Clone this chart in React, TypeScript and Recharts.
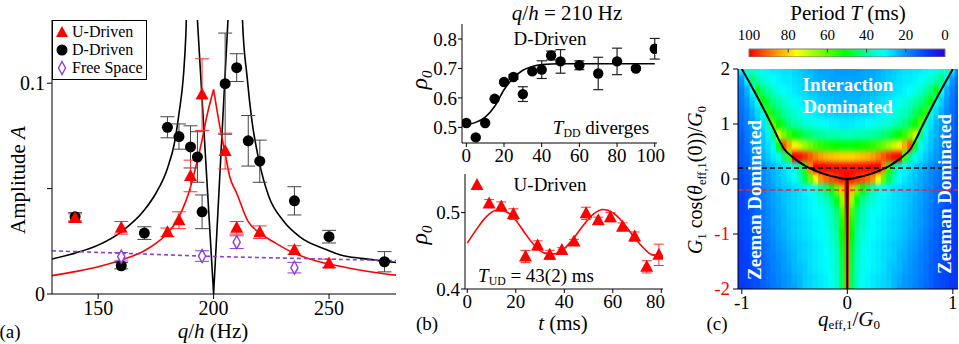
import React from "react";
import {
  ComposedChart,
  Scatter,
  Line,
  XAxis,
  YAxis,
  ErrorBar,
  ReferenceLine,
  ReferenceArea,
} from "recharts";

const SERIF = '"Liberation Serif", "Times New Roman", serif';
const PURPLE = "#8a3fd6";

// ---------- (a) amplitude vs q/h ----------
const uDriven = [
  { q: 140, a: 0.036, e: 0.002 },
  { q: 160, a: 0.0314, e: 0.003 },
  { q: 180, a: 0.0293, e: 0.002 },
  { q: 185, a: 0.035, e: 0.004 },
  { q: 190, a: 0.056, e: 0.0075 },
  { q: 195, a: 0.0946, e: 0.017 },
  { q: 205, a: 0.0678, e: 0.0085 },
  { q: 210, a: 0.0314, e: 0.003 },
  { q: 220, a: 0.0293, e: 0.003 },
  { q: 235, a: 0.0209, e: 0.002 },
  { q: 250, a: 0.0145, e: 0.002 },
];

const dDriven = [
  { q: 140, a: 0.0366, e: 0.002 },
  { q: 160, a: 0.0134, e: 0.0015 },
  { q: 170, a: 0.0289, e: 0.003 },
  { q: 180, a: 0.0791, e: 0.005 },
  { q: 185, a: 0.0747, e: 0.006 },
  { q: 190, a: 0.0698, e: 0.01 },
  { q: 193, a: 0.065, e: 0.012 },
  { q: 195, a: 0.039, e: 0.008 },
  { q: 205, a: 0.0998, e: 0.024 },
  { q: 210, a: 0.1074, e: 0.0066 },
  { q: 215, a: 0.0727, e: 0.012 },
  { q: 220, a: 0.063, e: 0.01 },
  { q: 235, a: 0.0442, e: 0.0067 },
  { q: 250, a: 0.0272, e: 0.003 },
  { q: 274, a: 0.0153, e: 0.0048 },
];

const freeSpace = [
  { q: 160, a: 0.0177, e: 0.002 },
  { q: 195, a: 0.018, e: 0.0025 },
  { q: 210, a: 0.0246, e: 0.003 },
  { q: 235, a: 0.0125, e: 0.0025 },
];

const freeSpaceFit = [
  { q: 130, a: 0.0205 },
  { q: 200, a: 0.0178 },
  { q: 280, a: 0.0158 },
];

const blackFitLeft = [
  { q: 130, a: 0.0166 },
  { q: 140, a: 0.0194 },
  { q: 150, a: 0.0232 },
  { q: 160, a: 0.0295 },
  { q: 170, a: 0.0398 },
  { q: 175, a: 0.0478 },
  { q: 180, a: 0.0596 },
  { q: 183, a: 0.0714 },
  { q: 185, a: 0.0856 },
  { q: 187, a: 0.1045 },
  { q: 188, a: 0.1235 },
  { q: 189, a: 0.16 },
];

const blackFitMid = [
  { q: 192.5, a: 0.139 },
  { q: 200, a: 0 },
  { q: 206.7, a: 0.14 },
];

const blackFitRight = [
  { q: 212, a: 0.15 },
  { q: 212.5, a: 0.13 },
  { q: 214.5, a: 0.103 },
  { q: 216.5, a: 0.083 },
  { q: 219.5, a: 0.064 },
  { q: 224, a: 0.046 },
  { q: 230, a: 0.035 },
  { q: 237.5, a: 0.027 },
  { q: 249, a: 0.021 },
  { q: 255, a: 0.0185 },
  { q: 265, a: 0.0168 },
  { q: 280, a: 0.0148 },
];

const redFitLeft = [
  { q: 130, a: 0.0087 },
  { q: 140, a: 0.0106 },
  { q: 150, a: 0.0129 },
  { q: 160, a: 0.0161 },
  { q: 170, a: 0.0205 },
  { q: 175, a: 0.024 },
  { q: 180, a: 0.0288 },
  { q: 185, a: 0.0366 },
  { q: 190, a: 0.0508 },
  { q: 193, a: 0.0635 },
  { q: 195, a: 0.073 },
  { q: 197, a: 0.084 },
  { q: 200, a: 0.097 },
];

const redFitRight = [
  { q: 200, a: 0.097 },
  { q: 203, a: 0.0777 },
  { q: 205, a: 0.0667 },
  { q: 207, a: 0.0556 },
  { q: 210, a: 0.0478 },
  { q: 215, a: 0.0343 },
  { q: 220, a: 0.029 },
  { q: 227, a: 0.024 },
  { q: 235, a: 0.0193 },
  { q: 242, a: 0.0165 },
  { q: 250, a: 0.0142 },
  { q: 260, a: 0.012 },
  { q: 270, a: 0.0102 },
  { q: 280, a: 0.0088 },
];

const aTicksX = [150, 200, 250];
const aTicksY = [0, 0.05, 0.1];

// ---------- (b) rho_0 vs t ----------
const dTime = [
  { t: 0, r: 0.515, e: 0 },
  { t: 5, r: 0.466, e: 0 },
  { t: 10, r: 0.515, e: 0 },
  { t: 15, r: 0.597, e: 0 },
  { t: 20, r: 0.654, e: 0 },
  { t: 25, r: 0.671, e: 0.008 },
  { t: 30, r: 0.613, e: 0.025 },
  { t: 35, r: 0.69, e: 0 },
  { t: 40, r: 0.696, e: 0.03 },
  { t: 45, r: 0.744, e: 0.015 },
  { t: 50, r: 0.724, e: 0.04 },
  { t: 60, r: 0.711, e: 0.015 },
  { t: 70, r: 0.683, e: 0.055 },
  { t: 80, r: 0.724, e: 0.045 },
  { t: 90, r: 0.7, e: 0.006 },
  { t: 100, r: 0.767, e: 0.035 },
];

const dTimeFit = [
  { t: 0, r: 0.509 },
  { t: 5, r: 0.517 },
  { t: 10, r: 0.535 },
  { t: 15, r: 0.571 },
  { t: 20, r: 0.628 },
  { t: 25, r: 0.668 },
  { t: 30, r: 0.694 },
  { t: 35, r: 0.707 },
  { t: 40, r: 0.713 },
  { t: 50, r: 0.716 },
  { t: 100, r: 0.716 },
];

const uTime = [
  { t: 4, r: 0.536, e: 0 },
  { t: 9, r: 0.512, e: 0.005 },
  { t: 14, r: 0.508, e: 0.006 },
  { t: 19, r: 0.498, e: 0.007 },
  { t: 24, r: 0.4425, e: 0.008 },
  { t: 29, r: 0.457, e: 0.006 },
  { t: 34, r: 0.4447, e: 0.006 },
  { t: 39, r: 0.451, e: 0.003 },
  { t: 44, r: 0.462, e: 0.003 },
  { t: 49, r: 0.499, e: 0.008 },
  { t: 54, r: 0.49, e: 0.004 },
  { t: 59, r: 0.494, e: 0.006 },
  { t: 64, r: 0.4815, e: 0.005 },
  { t: 69, r: 0.4686, e: 0.006 },
  { t: 74, r: 0.429, e: 0.008 },
  { t: 79, r: 0.4447, e: 0.014 },
];

const uTimeFit = [
  { t: 0, r: 0.46 },
  { t: 4, r: 0.479 },
  { t: 8, r: 0.495 },
  { t: 12, r: 0.503 },
  { t: 16, r: 0.501 },
  { t: 20, r: 0.49 },
  { t: 24, r: 0.472 },
  { t: 28, r: 0.456 },
  { t: 32, r: 0.447 },
  { t: 36, r: 0.446 },
  { t: 40, r: 0.453 },
  { t: 44, r: 0.467 },
  { t: 48, r: 0.484 },
  { t: 52, r: 0.498 },
  { t: 56, r: 0.504 },
  { t: 60, r: 0.5 },
  { t: 64, r: 0.488 },
  { t: 68, r: 0.471 },
  { t: 72, r: 0.456 },
  { t: 76, r: 0.445 },
  { t: 80, r: 0.443 },
];

const bTicksTop = [0, 20, 40, 60, 80, 100];
const bTicksTopY = [0.5, 0.6, 0.7, 0.8];
const bTicksBot = [0, 20, 40, 60, 80];
const bTicksBotY = [0.4, 0.5];

// ---------- (c) period map ----------
// columns: q_eff/G0 >= 0 (mirrored to negative side), rows: G1 cos / G0
const hmX = [0, 0.05, 0.1, 0.15, 0.2, 0.25, 0.3, 0.35, 0.4, 0.45, 0.5, 0.55, 0.6, 0.65, 0.7, 0.75, 0.8, 0.85, 0.9, 0.95, 1.0, 1.05];
const hmY = [2, 1.8, 1.6, 1.4, 1.2, 1, 0.8, 0.6, 0.4, 0.2, 0, -0.2, -0.4, -0.6, -0.8, -1, -1.2, -1.4, -1.6, -1.8, -2];
const hmT = [
  [21, 21, 21, 22, 22, 22, 23, 24, 25, 26, 27, 28, 28, 29, 29, 30, 31, 33, 35, 37, 31, 18],
  [22, 22, 22, 22, 23, 23, 24, 25, 26, 27, 28, 29, 29, 30, 31, 33, 35, 38, 43, 30, 21, 16],
  [23, 23, 23, 23, 24, 24, 25, 26, 27, 28, 29, 30, 31, 33, 36, 39, 43, 50, 31, 23, 18, 14],
  [24, 24, 24, 25, 25, 26, 27, 28, 29, 30, 32, 34, 36, 39, 42, 46, 52, 33, 26, 21, 17, 13],
  [26, 26, 26, 27, 27, 28, 29, 30, 31, 33, 35, 37, 40, 44, 48, 55, 35, 27, 23, 19, 16, 13],
  [29, 29, 30, 30, 31, 32, 33, 34, 35, 37, 39, 42, 46, 51, 60, 37, 28, 24, 21, 18, 15, 12],
  [37, 37, 38, 38, 39, 40, 41, 43, 45, 48, 51, 56, 63, 71, 41, 30, 26, 23, 20, 17, 14, 12],
  [50, 50, 51, 52, 53, 55, 58, 62, 66, 71, 77, 84, 92, 49, 33, 28, 25, 22, 19, 16, 13, 11],
  [80, 80, 81, 82, 83, 85, 88, 92, 96, 99, 100, 57, 41, 33, 29, 26, 23, 21, 18, 15, 13, 11],
  [99, 99, 99, 99, 100, 100, 100, 88, 56, 41, 34, 30, 28, 26, 24, 22, 20, 18, 16, 14, 12, 10],
  [100, 98, 95, 93, 90, 86, 76, 61, 46, 37, 31, 29, 27, 25, 23, 21, 19, 17, 15, 13, 11, 10],
  [100, 82, 61, 49, 43, 38, 34, 31, 30, 28, 27, 26, 25, 24, 22, 20, 18, 16, 14, 12, 11, 10],
  [98, 66, 49, 41, 37, 34, 32, 30, 29, 28, 27, 26, 25, 23, 22, 20, 18, 16, 14, 12, 10, 9],
  [95, 58, 43, 37, 34, 32, 31, 30, 29, 28, 27, 26, 24, 23, 21, 19, 17, 15, 13, 11, 10, 9],
  [93, 54, 41, 36, 33, 31, 30, 29, 28, 27, 26, 25, 24, 22, 21, 19, 17, 15, 13, 11, 10, 9],
  [92, 51, 39, 35, 32, 31, 30, 29, 28, 27, 26, 25, 23, 22, 20, 18, 16, 14, 12, 11, 10, 9],
  [90, 49, 38, 34, 32, 30, 29, 28, 27, 26, 25, 24, 22, 21, 19, 17, 15, 14, 12, 11, 9, 8],
  [90, 47, 37, 33, 31, 30, 29, 28, 27, 26, 24, 23, 21, 20, 18, 17, 15, 13, 12, 10, 9, 8],
  [89, 46, 36, 33, 31, 30, 29, 28, 26, 25, 24, 22, 21, 19, 18, 16, 14, 13, 11, 10, 9, 8],
  [88, 45, 36, 32, 30, 29, 28, 27, 26, 24, 23, 21, 20, 19, 17, 16, 14, 12, 11, 10, 9, 8],
  [88, 44, 35, 32, 30, 29, 28, 27, 26, 24, 22, 21, 20, 18, 17, 15, 14, 12, 11, 10, 8, 8],
];

const boundaryHalf = [
  { x: 0, y: 0 },
  { x: 0.1, y: 0.03 },
  { x: 0.2, y: 0.08 },
  { x: 0.3, y: 0.15 },
  { x: 0.4, y: 0.24 },
  { x: 0.5, y: 0.37 },
  { x: 0.6, y: 0.55 },
  { x: 0.65, y: 0.72 },
  { x: 0.7, y: 0.92 },
  { x: 0.8, y: 1.3 },
  { x: 0.9, y: 1.66 },
  { x: 1.0, y: 2.0 },
];

const cTicksX = [-1, 0, 1];
const cTicksY = [-2, -1, 0, 1, 2];
const cbarTicks = [100, 80, 60, 40, 20, 0];

// colour map of the period bar (T in ms -> colour)
const cmap: [number, string][] = [
  [0, "#2a00e0"],
  [10, "#0040ff"],
  [20, "#0090ff"],
  [31, "#00ffff"],
  [41, "#00ff90"],
  [51, "#00ff00"],
  [64, "#80ff00"],
  [76, "#ffff00"],
  [88, "#ff8000"],
  [100, "#ff0000"],
];

function hex2rgb(h: string) {
  return [1, 3, 5].map((i) => parseInt(h.slice(i, i + 2), 16));
}

function tColor(t: number) {
  const v = Math.max(0, Math.min(100, t));
  for (let i = 0; i < cmap.length - 1; i++) {
    const [t0, c0] = cmap[i];
    const [t1, c1] = cmap[i + 1];
    if (v <= t1) {
      const f = (v - t0) / (t1 - t0);
      const a = hex2rgb(c0);
      const b = hex2rgb(c1);
      const m = a.map((x, k) => Math.round(x + (b[k] - x) * f));
      return `rgb(${m[0]},${m[1]},${m[2]})`;
    }
  }
  return cmap[cmap.length - 1][1];
}

const heatCells = hmY.flatMap((y, i) =>
  hmX.flatMap((x, j) =>
    x === 0
      ? [{ x, y, t: hmT[i][j] }]
      : [
          { x: -x, y, t: hmT[i][j] },
          { x, y, t: hmT[i][j] },
        ]
  )
);

const boundary = [
  ...boundaryHalf
    .slice(1)
    .reverse()
    .map((p) => ({ x: -p.x, y: p.y })),
  ...boundaryHalf,
];

const cbarPoints = cbarTicks.map((t) => ({ t, v: 0.5 }));

// plot area of panel (c)
const C_X_DOMAIN = [-1.036, 1.049];
const C_PLOT_W = 220;
const C_PLOT_H = 220;
const PX_X = C_PLOT_W / (C_X_DOMAIN[1] - C_X_DOMAIN[0]);
const PX_Y = C_PLOT_H / 4;
const CELL_W = 0.05 * PX_X;
const CELL_H = 0.2 * PX_Y;
// the colour map is drawn in a slightly larger box, then cut to the plot
const PAD_X = 0.1;
const PAD_Y = 0.2;

// ---------- shapes ----------
const triShape = (p: any) => (
  <path
    d={`M${p.cx},${p.cy - 7}L${p.cx + 6.5},${p.cy + 5}L${p.cx - 6.5},${p.cy + 5}Z`}
    fill="#ff0000"
  />
);
const dotShape = (p: any) => <circle cx={p.cx} cy={p.cy} r={5.5} fill="#000" />;
const diamondShape = (p: any) => (
  <path
    d={`M${p.cx},${p.cy - 6.5}L${p.cx + 3.6},${p.cy}L${p.cx},${p.cy + 6.5}L${p.cx - 3.6},${p.cy}Z`}
    fill="#fff"
    stroke={PURPLE}
    strokeWidth={1.4}
  />
);
const cellShape = (p: any) => (
  <rect
    x={p.cx - CELL_W / 2 - 0.3}
    y={p.cy - CELL_H / 2 - 0.3}
    width={CELL_W + 0.6}
    height={CELL_H + 0.6}
    fill={tColor(p.payload.t)}
  />
);

const tickA = { fontSize: 20, fill: "#000", fontFamily: SERIF };
const tickB = { fontSize: 19, fill: "#000", fontFamily: SERIF };

const CYTick = (p: any) => (
  <text
    x={p.x}
    y={p.y}
    dy={6}
    textAnchor="end"
    fontSize={19}
    style={{ fontFamily: SERIF }}
    fill={p.payload.value < 0 ? "#ff0000" : "#000"}
  >
    {p.payload.value}
  </text>
);

const T = ({
  x,
  y,
  size = 19,
  rotate = false,
  style = {},
  children,
}: {
  x: number;
  y: number;
  size?: number;
  rotate?: boolean;
  style?: React.CSSProperties;
  children: React.ReactNode;
}) => (
  <div
    style={{
      position: "absolute",
      left: x,
      top: y,
      transform: `translate(-50%, -50%)${rotate ? " rotate(-90deg)" : ""}`,
      fontFamily: SERIF,
      fontSize: size,
      lineHeight: 1,
      whiteSpace: "nowrap",
      color: "#000",
      ...style,
    }}
  >
    {children}
  </div>
);

const sub = { fontSize: "0.62em", verticalAlign: "-0.3em" } as React.CSSProperties;

const at = (left: number, top: number): React.CSSProperties => ({
  position: "absolute",
  left,
  top,
  fontFamily: SERIF,
});

function Frame() {
  return [
    <XAxis key="fx" xAxisId="top" orientation="top" type="number" domain={[0, 1]} height={0} tick={false} tickLine={false} stroke="#000" />,
    <YAxis key="fy" yAxisId="right" orientation="right" type="number" domain={[0, 1]} width={0} tick={false} tickLine={false} stroke="#000" />,
  ];
}

export default function App() {
  const ln = { dot: false, isAnimationActive: false } as const;
  const white = { color: "#fff", fontWeight: "bold" } as React.CSSProperties;
  return (
    <div style={{ position: "absolute", left: 0, top: 0, width: 959, height: 344, background: "#fff", overflow: "hidden", fontFamily: SERIF }}>
      <svg width={0} height={0} style={{ position: "absolute" }}>
        <defs>
          <filter id="hmBlur" x="-5%" y="-5%" width="110%" height="110%" colorInterpolationFilters="sRGB">
            <feGaussianBlur stdDeviation="0.6 2.8" />
          </filter>
        </defs>
      </svg>

      {/* (a) */}
      <div style={at(0, 0)}>
        <ComposedChart width={400} height={344} margin={{ top: 20, right: 4, bottom: 0, left: 0 }} style={{ fontFamily: SERIF }}>
          <XAxis dataKey="q" type="number" domain={[130, 279]} allowDataOverflow ticks={aTicksX} height={50} tick={tickA} tickSize={5} stroke="#000" />
          <YAxis dataKey="a" type="number" domain={[0, 0.13]} allowDataOverflow ticks={aTicksY} tickFormatter={(v) => (v === 0.05 ? "" : String(v))} width={52} tick={tickA} tickSize={5} stroke="#000" />
          {Frame()}
          <Line data={blackFitLeft} dataKey="a" type="monotone" stroke="#000" strokeWidth={1.6} {...ln} />
          <Line data={blackFitMid} dataKey="a" type="linear" stroke="#000" strokeWidth={1.6} {...ln} />
          <Line data={blackFitRight} dataKey="a" type="monotone" stroke="#000" strokeWidth={1.6} {...ln} />
          <Line data={redFitLeft} dataKey="a" type="monotone" stroke="#ff0000" strokeWidth={1.6} {...ln} />
          <Line data={redFitRight} dataKey="a" type="monotone" stroke="#ff0000" strokeWidth={1.6} {...ln} />
          <Line data={freeSpaceFit} dataKey="a" type="linear" stroke={PURPLE} strokeWidth={1.6} strokeDasharray="4 3" {...ln} />
          <Scatter data={dDriven} dataKey="a" shape={dotShape} isAnimationActive={false}>
            <ErrorBar dataKey="e" direction="y" width={7} stroke="#444" strokeWidth={1} />
          </Scatter>
          <Scatter data={uDriven} dataKey="a" shape={triShape} isAnimationActive={false}>
            <ErrorBar dataKey="e" direction="y" width={7} stroke="#ff3030" strokeWidth={1} />
          </Scatter>
          <Scatter data={freeSpace} dataKey="a" shape={diamondShape} isAnimationActive={false}>
            <ErrorBar dataKey="e" direction="y" width={7} stroke={PURPLE} strokeWidth={1} />
          </Scatter>
        </ComposedChart>
      </div>
      <div
        style={{
          position: "absolute",
          left: 52,
          top: 20,
          width: 95,
          height: 60,
          boxSizing: "border-box",
          border: "1px solid #000",
          background: "#fff",
          fontFamily: SERIF,
          fontSize: 16,
        }}
      >
        {[
          { label: "U-Driven", icon: <path d="M8,2L14,13L2,13Z" fill="#ff0000" /> },
          { label: "D-Driven", icon: <circle cx={8} cy={8} r={5.5} fill="#000" /> },
          { label: "Free Space", icon: <path d="M8,1.5L11.5,8L8,14.5L4.5,8Z" fill="#fff" stroke={PURPLE} strokeWidth={1.4} /> },
        ].map((it, i) => (
          <div key={it.label} style={{ position: "absolute", left: 1, top: 3 + i * 18, height: 16, display: "flex", alignItems: "center", whiteSpace: "nowrap" }}>
            <svg width={16} height={16} style={{ marginRight: 2 }}>{it.icon}</svg>
            <span>{it.label}</span>
          </div>
        ))}
      </div>
      <T x={18} y={180} size={21} rotate>
        Amplitude <i>A</i>
      </T>
      <T x={213} y={331} size={21}>
        <i>q</i>/<i>h</i> (Hz)
      </T>
      <T x={10} y={331} size={19}>(a)</T>

      {/* (b) top */}
      <div style={at(405, 0)}>
        <ComposedChart width={260} height={170} margin={{ top: 24, right: 8, bottom: 0, left: 0 }} style={{ fontFamily: SERIF }}>
          <XAxis dataKey="t" type="number" domain={[-2.3, 101.2]} allowDataOverflow ticks={bTicksTop} height={27} tick={tickB} tickSize={4} stroke="#000" />
          <YAxis dataKey="r" type="number" domain={[0.447, 0.851]} allowDataOverflow ticks={bTicksTopY} width={57} tick={tickB} tickSize={4} tickMargin={1} stroke="#000" />
          {Frame()}
          <Line data={dTimeFit} dataKey="r" type="monotone" stroke="#000" strokeWidth={1.6} {...ln} />
          <Scatter data={dTime} dataKey="r" shape={(p: any) => <circle cx={p.cx} cy={p.cy} r={5.2} fill="#000" />} isAnimationActive={false}>
            <ErrorBar dataKey="e" direction="y" width={5} stroke="#222" strokeWidth={1.2} />
          </Scatter>
        </ComposedChart>
      </div>
      <T x={567} y={13} size={21}>
        <i>q</i>/<i>h</i> = 210 Hz
      </T>
      <T x={550} y={38} size={19}>D-Driven</T>
      <T x={601} y={129} size={19}>
        <i>T</i>
        <span style={sub}>DD</span> diverges
      </T>
      <T x={421} y={80} size={24} rotate>
        <i>ρ</i>
        <span style={{ ...sub, fontStyle: "italic" }}>0</span>
      </T>

      {/* (b) bottom */}
      <div style={at(405, 160)}>
        <ComposedChart width={260} height={184} margin={{ top: 14, right: 2, bottom: 0, left: 0 }} style={{ fontFamily: SERIF }}>
          <XAxis dataKey="t" type="number" domain={[-0.95, 80.7]} allowDataOverflow ticks={bTicksBot} height={55} tick={tickB} tickSize={4} stroke="#000" />
          <YAxis dataKey="r" type="number" domain={[0.4, 0.5505]} allowDataOverflow ticks={bTicksBotY} width={60} tick={tickB} tickSize={4} tickMargin={1} stroke="#000" />
          {Frame()}
          <Line data={uTimeFit} dataKey="r" type="monotone" stroke="#ff0000" strokeWidth={1.6} {...ln} />
          <Scatter data={uTime} dataKey="r" shape={triShape} isAnimationActive={false}>
            <ErrorBar dataKey="e" direction="y" width={5} stroke="#ff3030" strokeWidth={1} />
          </Scatter>
        </ComposedChart>
      </div>
      <T x={550} y={184} size={19}>U-Driven</T>
      <T x={536} y={277} size={19}>
        <i>T</i>
        <span style={sub}>UD</span> = 43(2) ms
      </T>
      <T x={421} y={235} size={24} rotate>
        <i>ρ</i>
        <span style={{ ...sub, fontStyle: "italic" }}>0</span>
      </T>
      <T x={563} y={323} size={21}>
        <i>t</i> (ms)
      </T>
      <T x={427} y={323} size={19}>(b)</T>

      {/* (c) colour bar */}
      <div style={at(735, 20)}>
        <ComposedChart width={225} height={37} margin={{ top: 0, right: 15, bottom: 0, left: 14 }} style={{ fontFamily: SERIF }}>
          <defs>
            <linearGradient id="cbar" x1="0" y1="0" x2="1" y2="0">
              {[...cmap].reverse().map(([t, c]) => (
                <stop key={t} offset={`${100 - t}%`} stopColor={c} />
              ))}
            </linearGradient>
          </defs>
          <XAxis dataKey="t" type="number" orientation="top" domain={[0, 100]} reversed ticks={cbarTicks} height={29} axisLine={false} tickLine={false} tick={{ fontSize: 15, fill: "#000", fontFamily: SERIF }} tickMargin={3} />
          <YAxis dataKey="v" type="number" domain={[0, 1]} hide />
          <Line data={cbarPoints} dataKey="v" stroke="none" {...ln} />
          <ReferenceArea x1={0} x2={100} y1={0} y2={1} fill="url(#cbar)" fillOpacity={1} stroke="#777" strokeWidth={1} />
          {cbarTicks.slice(1, -1).map((v) => (
            <ReferenceLine key={v} segment={[{ x: v, y: 1 }, { x: v, y: 0.55 }]} stroke="#333" strokeWidth={1} />
          ))}
        </ComposedChart>
      </div>
      <T x={848} y={13} size={21}>
        Period <i>T</i> (ms)
      </T>

      {/* (c) map: colour cells, softened and cut to the plot box */}
      <div style={{ position: "absolute", left: 738, top: 69, width: C_PLOT_W, height: C_PLOT_H, overflow: "hidden" }}>
        <div style={{ position: "absolute", left: -PAD_X * PX_X, top: -PAD_Y * PX_Y, filter: "url(#hmBlur)" }}>
          <ComposedChart
            width={C_PLOT_W + 2 * PAD_X * PX_X}
            height={C_PLOT_H + 2 * PAD_Y * PX_Y}
            margin={{ top: 0, right: 0, bottom: 0, left: 0 }}
          >
            <XAxis dataKey="x" type="number" domain={[C_X_DOMAIN[0] - PAD_X, C_X_DOMAIN[1] + PAD_X]} allowDataOverflow hide />
            <YAxis dataKey="y" type="number" domain={[-2 - PAD_Y, 2 + PAD_Y]} allowDataOverflow hide />
            <Scatter data={heatCells} dataKey="y" shape={cellShape} isAnimationActive={false} />
          </ComposedChart>
        </div>
      </div>
      {/* (c) map: axes and lines on top */}
      <div style={at(700, 50)}>
        <ComposedChart width={259} height={294} margin={{ top: 19, right: 1, bottom: 0, left: 0 }} style={{ fontFamily: SERIF }}>
          <XAxis dataKey="x" type="number" domain={C_X_DOMAIN} allowDataOverflow ticks={cTicksX} height={55} tick={tickB} tickSize={5} stroke="#000" />
          <YAxis dataKey="y" type="number" domain={[-2, 2]} allowDataOverflow ticks={cTicksY} width={38} tick={CYTick} tickSize={5} tickMargin={3} stroke="#000" />
          {Frame()}
          <ReferenceLine y={0.2} stroke="#000" strokeWidth={1.6} strokeDasharray="5 3" />
          <ReferenceLine y={-0.2} stroke="#ff2020" strokeWidth={1.6} strokeDasharray="5 3" />
          <ReferenceLine segment={[{ x: 0, y: 0 }, { x: 0, y: -2 }]} stroke="#000" strokeWidth={2} />
          <Line data={boundary} dataKey="y" type="monotone" stroke="#000" strokeWidth={2} {...ln} />
        </ComposedChart>
      </div>
      <T x={848} y={84} size={19} style={white}>Interaction</T>
      <T x={848} y={106} size={19} style={white}>Dominated</T>
      <T x={754} y={200} size={19} rotate style={white}>Zeeman Dominated</T>
      <T x={944} y={194} size={19} rotate style={white}>Zeeman Dominated</T>
      <T x={697} y={180} size={20} rotate>
        <i>G</i>
        <span style={sub}>1</span> cos(<i>θ</i>
        <span style={sub}>eff,1</span>(0))/<i>G</i>
        <span style={sub}>0</span>
      </T>
      <T x={849} y={320} size={21}>
        <i>q</i>
        <span style={sub}>eff,1</span>/<i>G</i>
        <span style={sub}>0</span>
      </T>
      <T x={717} y={323} size={19}>(c)</T>
    </div>
  );
}
